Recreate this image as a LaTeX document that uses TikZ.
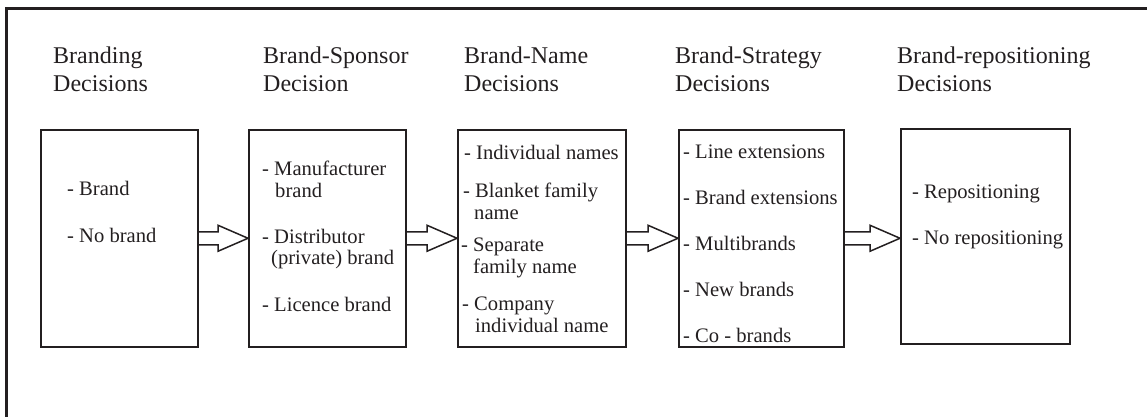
\documentclass[tikz,border=0pt]{standalone}
\usepackage{fontspec}
\setmainfont{Liberation Serif}
\usetikzlibrary{calc}

\definecolor{ink}{RGB}{35,31,32}

\tikzset{
  frame/.style={line width=3pt, draw=ink},
  box/.style={draw=ink, line width=1.5pt, anchor=north west, inner sep=0pt},
  title/.style={anchor=base west, inner sep=0pt, text=ink, font=\fontsize{24}{28}\selectfont},
  item/.style={anchor=base west, inner sep=0pt, text=ink, font=\fontsize{20.6}{22}\selectfont},
  blockarrow/.style={draw=ink, line width=1.5pt, line join=miter}
}

% hollow arrow from one box to the next
\newcommand{\brandarrow}[2]{%
  \coordinate (tip) at (#2.west |- #1.east);
  \draw[blockarrow] ($(#1.east)+(0,-6.5)$) -- ($(tip)+(-30,-6.5)$)
    -- ($(tip)+(-30,-13)$) -- (tip) -- ($(tip)+(-30,13)$)
    -- ($(tip)+(-30,6.5)$) -- ($(#1.east)+(0,6.5)$);}

\begin{document}
\begin{tikzpicture}[x=1pt, y=-1pt]
	\useasboundingbox (0,0) rectangle (1147,416);
	\draw[frame] (6,420) |- (1150,8);
	% titles
	\foreach \x/\first/\second [count=\i] in {53/Branding/Decisions, 263/Brand-Sponsor/Decision,
		464/Brand-Name/Decisions, 675/Brand-Strategy/Decisions, 897/Brand-repositioning/Decisions}{
		\node[title] (head\i) at (\x,63) {\first};
		\node[title] (sub\i) at (\x,91) {\second};
	}
	% boxes
	\node[box, minimum width=157, minimum height=217] (b1) at (40,129) {};
	\node[box, minimum width=157, minimum height=217] (b2) at (248,129) {};
	\node[box, minimum width=168, minimum height=217] (b3) at (457,129) {};
	\node[box, minimum width=165, minimum height=217] (b4) at (678,129) {};
	\node[box, minimum width=169, minimum height=215] (b5) at (900,128) {};
	% box texts
	\foreach \txt/\x/\y [count=\i] in {- Brand/67/195, - No brand/67/242}
		\node[item] (b1l\i) at (\x,\y) {\txt};
	\foreach \txt/\x/\y [count=\i] in {- Manufacturer/262/175, brand/275/197,
		- Distributor/262/243, (private) brand/271/264, - Licence brand/262/311}
		\node[item] (b2l\i) at (\x,\y) {\txt};
	\foreach \txt/\x/\y [count=\i] in {- Individual names/464/159, - Blanket family/463/197,
		name/474/219, - Separate/461/251, family name/473/273, - Company/462/310,
		individual name/475/332}
		\node[item] (b3l\i) at (\x,\y) {\txt};
	\foreach \txt/\x/\y [count=\i] in {- Line extensions/683/158, - Brand extensions/683/204,
		- Multibrands/683/250, - New brands/683/296, - Co - brands/683/342}
		\node[item] (b4l\i) at (\x,\y) {\txt};
	\foreach \txt/\x/\y [count=\i] in {- Repositioning/912/198, - No repositioning/912/244}
		\node[item] (b5l\i) at (\x,\y) {\txt};
	% arrows
	\brandarrow{b1}{b2}
	\brandarrow{b2}{b3}
	\brandarrow{b3}{b4}
	\brandarrow{b4}{b5}
\end{tikzpicture}
\end{document}
